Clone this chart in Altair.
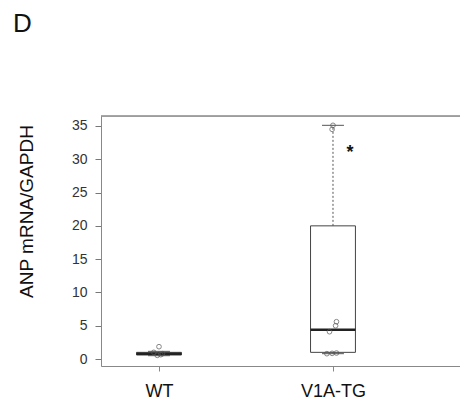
import altair as alt
import pandas as pd

# ---- data ----
groups = ["WT", "V1A-TG"]
group_pos = [1, 2]
q1 = [0.6, 1.0]
median = [0.8, 4.4]
q3 = [1.0, 20.0]
whisk_lo = [0.5, 0.8]
whisk_hi = [1.15, 35.1]

pt_group = [1, 1, 1, 1, 1, 2, 2, 2, 2, 2, 2, 2, 2]
pt_jitter = [0.0, -0.03, 0.02, 0.01, -0.01, 0.0, -0.005, 0.02, 0.015, -0.02, -0.035, -0.005, 0.02]
pt_value = [1.85, 1.0, 0.8, 0.65, 0.55, 35.1, 34.5, 5.6, 5.0, 4.1, 0.8, 0.85, 0.9]

star_pos = [2.098]
star_val = [30.9]
star_txt = ["*"]

panel_label = ["D"]

box_df = pd.DataFrame({
    "group": groups, "pos": group_pos, "q1": q1, "median": median,
    "q3": q3, "lo": whisk_lo, "hi": whisk_hi,
})
box_half = 0.129
cap_half = 0.063
box_df["left"] = box_df["pos"] - box_half
box_df["right"] = box_df["pos"] + box_half
box_df["cl"] = box_df["pos"] - cap_half
box_df["cr"] = box_df["pos"] + cap_half

pts_df = pd.DataFrame({"pos": [g + j for g, j in zip(pt_group, pt_jitter)], "value": pt_value})
star_df = pd.DataFrame({"pos": star_pos, "value": star_val, "txt": star_txt})
lab_df = pd.DataFrame({"txt": panel_label})

FONT = "Liberation Sans"
xscale = alt.Scale(domain=[0.6667, 2.73], nice=False, zero=False)
yscale = alt.Scale(domain=[-1.05, 36.5], nice=False, zero=False)
xaxis = alt.Axis(values=[1, 2], labelExpr="datum.value == 1 ? 'WT' : 'V1A-TG'",
                 title=None, grid=False, tickSize=5, tickColor="#888", domainColor="#888",
                 labelFontSize=18, labelFont=FONT, labelColor="#111", labelPadding=11,
                 labelFlush=False)
yaxis = alt.Axis(values=[0, 5, 10, 15, 20, 25, 30, 35], title="ANP mRNA/GAPDH",
                 grid=False, tickSize=6, tickColor="#777", domainColor="#888",
                 labelFontSize=14, labelFont=FONT, labelColor="#333", labelPadding=8,
                 titleFontSize=19, titleFont=FONT, titleFontWeight="normal", titleColor="#111",
                 titleX=-65, titleY=95, titleAngle=-90, titleBaseline="bottom")

base = alt.Chart(box_df)

box = base.mark_rect(fill="white", stroke="#444", strokeWidth=1).encode(
    x=alt.X("left:Q", scale=xscale, axis=xaxis), x2="right:Q",
    y=alt.Y("q1:Q", scale=yscale, axis=yaxis), y2="q3:Q",
)
whisk_up = base.mark_rule(color="#555", strokeWidth=1, strokeDash=[2, 2]).encode(
    x=alt.X("pos:Q", scale=xscale, axis=xaxis), y=alt.Y("q3:Q", scale=yscale, axis=yaxis), y2="hi:Q"
)
whisk_dn = base.mark_rule(color="#555", strokeWidth=1, strokeDash=[2, 2]).encode(
    x=alt.X("pos:Q", scale=xscale, axis=xaxis), y=alt.Y("lo:Q", scale=yscale, axis=yaxis), y2="q1:Q"
)
cap_hi = base.mark_rule(color="#555", strokeWidth=1).encode(
    x=alt.X("cl:Q", scale=xscale, axis=xaxis), x2="cr:Q", y=alt.Y("hi:Q", scale=yscale, axis=yaxis)
)
cap_lo = base.mark_rule(color="#555", strokeWidth=1).encode(
    x=alt.X("cl:Q", scale=xscale, axis=xaxis), x2="cr:Q", y=alt.Y("lo:Q", scale=yscale, axis=yaxis)
)
med = base.mark_rule(color="#222", strokeWidth=2.5).encode(
    x=alt.X("left:Q", scale=xscale, axis=xaxis), x2="right:Q", y=alt.Y("median:Q", scale=yscale, axis=yaxis)
)
pts = alt.Chart(pts_df).mark_point(shape="circle", size=22, filled=False, color="#555", strokeWidth=1).encode(
    x=alt.X("pos:Q", scale=xscale, axis=xaxis), y=alt.Y("value:Q", scale=yscale, axis=yaxis)
)
star = alt.Chart(star_df).mark_text(fontSize=18, font=FONT, fontWeight="bold", color="#111",
                                    baseline="middle", align="center").encode(
    x=alt.X("pos:Q", scale=xscale, axis=xaxis), y=alt.Y("value:Q", scale=yscale, axis=yaxis), text="txt:N"
)
top_frame = alt.Chart(box_df).mark_rule(color="#888", strokeWidth=1).encode(
    x=alt.value(0), x2=alt.value(359), y=alt.value(0)
)
panel = alt.Chart(lab_df).mark_text(fontSize=26, font=FONT, color="#111", align="left",
                                    baseline="alphabetic").encode(
    x=alt.value(-88), y=alt.value(-84), text="txt:N"
)

chart = alt.layer(top_frame, box, whisk_up, whisk_dn, cap_hi, cap_lo, med, pts, star, panel).properties(
    width=359, height=250,
    autosize=alt.AutoSizeParams(type="none"),
    padding={"left": 93, "top": 108, "right": 0, "bottom": 34},
).configure_view(stroke=None).configure(background="white")

chart.save("out.html", embed_options={"renderer": "svg", "actions": False})
